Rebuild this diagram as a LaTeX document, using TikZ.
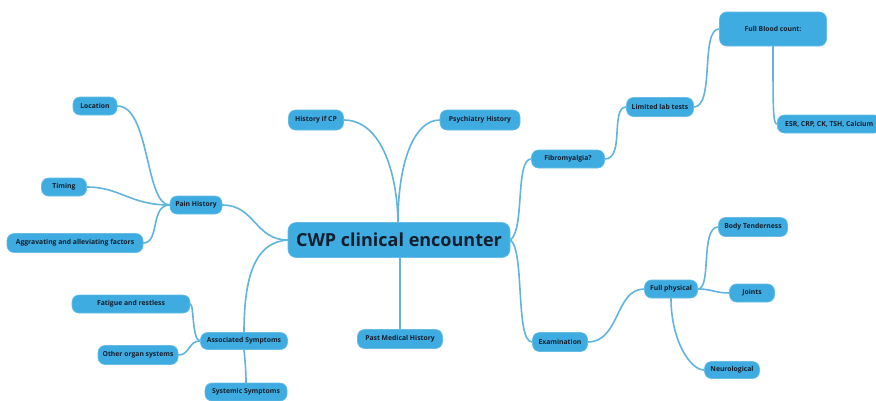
\documentclass[tikz,border=0pt]{standalone}
\usepackage{fontspec}
\setmainfont{Open Sans}
\pgfdeclarelayer{background}
\pgfsetlayers{background,main}
\definecolor{topicfill}{RGB}{62,172,224}
\definecolor{branch}{RGB}{96,180,222}
\definecolor{topictext}{RGB}{20,30,45}
\begin{document}
\begin{tikzpicture}[x=1pt,y=-1pt,
  topic/.style={fill=topicfill, draw=topicfill!80!white, line width=0.6pt,
    rounded corners=7pt, inner sep=0pt, text=topictext,
    font=\fontsize{6.8}{7.5}\selectfont\bfseries},
  central/.style={topic, rounded corners=8pt, font=\fontsize{18}{20}\selectfont\bfseries},
  link/.style={draw=branch, line width=1.6pt, line cap=round}]
\useasboundingbox (0,0) rectangle (876,400);

% central topic
\node[central, minimum width=222pt, minimum height=35pt] (cwp) at (399,240) {CWP clinical encounter};

% left: pain history
\node[topic, minimum width=52pt, minimum height=18pt] (pain) at (196,205) {Pain History};
\node[topic, minimum width=44pt, minimum height=18pt] (loc) at (95,106) {Location};
\node[topic, minimum width=45pt, minimum height=18pt] (timing) at (64,187) {Timing};
\node[topic, minimum width=136pt, minimum height=19pt] (aggr) at (75,243) {Aggravating and alleviating factors};

% left: associated symptoms
\node[topic, minimum width=87pt, minimum height=17pt] (assoc) at (244,341) {Associated Symptoms};
\node[topic, minimum width=118pt, minimum height=18pt] (fatigue) at (131,304) {Fatigue and restless};
\node[topic, minimum width=80pt, minimum height=19pt] (organ) at (138,355) {Other organ systems};
\node[topic, minimum width=82pt, minimum height=18pt] (systemic) at (246,392) {Systemic Symptoms};

% top and bottom
\node[topic, minimum width=55pt, minimum height=20pt] (hcp) at (316,120) {History if CP};
\node[topic, minimum width=80pt, minimum height=20pt] (psych) at (480,120) {Psychiatry History};
\node[topic, minimum width=85pt, minimum height=19pt] (pmh) at (400,339) {Past Medical History};

% right: fibromyalgia
\node[topic, minimum width=73pt, minimum height=18pt] (fibro) at (568,159) {Fibromyalgia?};
\node[topic, minimum width=67pt, minimum height=19pt] (lab) at (660,107) {Limited lab tests};
\node[topic, minimum width=107pt, minimum height=34pt] (fbc) at (773,29) {Full Blood count:};
\node[topic, minimum width=104pt, minimum height=18pt, anchor=west] (esr) at (777,124) {ESR, CRP, CK, TSH, Calcium};

% right: examination
\node[topic, minimum width=55pt, minimum height=19pt] (exam) at (560,342) {Examination};
\node[topic, minimum width=53pt, minimum height=18pt] (phys) at (671,289) {Full physical};
\node[topic, minimum width=69pt, minimum height=19pt] (body) at (753,227) {Body Tenderness};
\node[topic, minimum width=45pt, minimum height=18pt] (joints) at (752,293) {Joints};
\node[topic, minimum width=55pt, minimum height=17pt] (neuro) at (732,370) {Neurological};

% white page and branches, kept behind the topics
\begin{pgfonlayer}{background}
\fill[white] (0,0) rectangle (876,400);

\path[link] (cwp.west) .. controls (255,240) and (255,205) .. (pain.east);
\path[link] (pain.west) .. controls (145,205) and (150,106) .. (loc.east);
\path[link] (pain.west) .. controls (130,205) and (120,187) .. (timing.east);
\path[link] (pain.west) .. controls (150,205) and (160,243) .. (aggr.east);

\path[link] (cwp.west) .. controls (258,242) and (244,270) .. (assoc.north);
\path[link] (assoc.south) .. controls (245,360) and (246,370) .. (systemic.north);
\path[link] (assoc.west) .. controls (192,341) and (194,304) .. (fatigue.east);
\path[link] (assoc.west) .. controls (188,341) and (190,355) .. (organ.east);

\path[link] ([xshift=-1pt]cwp.north) .. controls (397,170) and (380,120) .. (hcp.east);
\path[link] ([xshift=-1pt]cwp.north) .. controls (398,160) and (415,120) .. (psych.west);
\path[link] ([xshift=1pt]cwp.south) -- (pmh.north);

\path[link] (cwp.east) .. controls (525,230) and (515,159) .. (fibro.west);
\path[link] (cwp.east) .. controls (525,250) and (515,342) .. (exam.west);

\path[link] (fibro.east) .. controls (625,159) and (610,107) .. (lab.west);
\path[link] (lab.east) .. controls (715,107) and (700,29) .. (fbc.west);
\path[link] (fbc.south) .. controls (773,110) and (773,124) .. (esr.west);

\path[link] (exam.east) .. controls (620,342) and (615,289) .. (phys.west);
\path[link] (phys.east) .. controls (712,289) and (700,227) .. (body.west);
\path[link] (phys.east) .. controls (712,289) and (715,293) .. (joints.west);
\path[link] (phys.south) .. controls (671,340) and (690,370) .. (neuro.west);
\end{pgfonlayer}
\end{tikzpicture}
\end{document}
